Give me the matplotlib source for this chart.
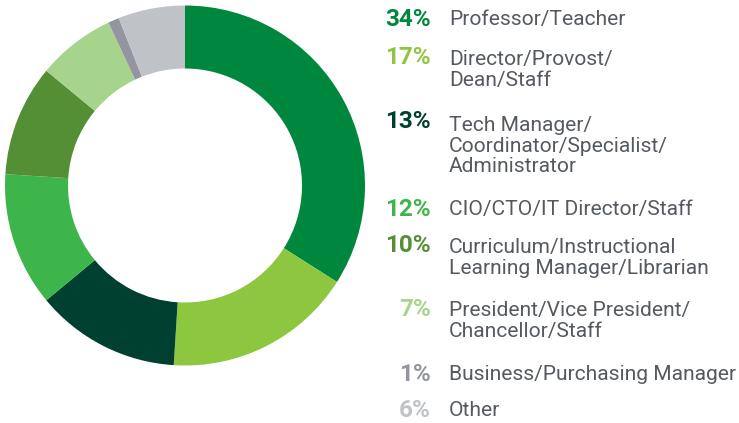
import matplotlib.pyplot as plt

labels = ['Professor/Teacher', 'Director/Provost/\nDean/Staff',
          'Tech Manager/\nCoordinator/Specialist/\nAdministrator',
          'CIO/CTO/IT Director/Staff',
          'Curriculum/Instructional\nLearning Manager/Librarian',
          'President/Vice President/\nChancellor/Staff',
          'Business/Purchasing Manager', 'Other']
values = [34, 17, 13, 12, 10, 7, 1, 6]
colors = ['#00873e', '#8dc63f', '#004030', '#3db54a', '#548f35',
          '#a6d48c', '#9396a0', '#bfc2c7']
# vertical centre of each label block, pixels from top
label_y = [20, 70, 146, 209, 258, 321, 374, 410]

W, H = 739, 423
fig = plt.figure(figsize=(W / 100, H / 100), dpi=100)

ax = fig.add_axes([5 / W, (H - 365.5) / H, 360 / W, 360 / H])
ax.pie(values, colors=colors, startangle=90, counterclock=False,
       radius=1, wedgeprops=dict(width=0.35, linewidth=0))
ax.set_xlim(-1, 1)
ax.set_ylim(-1, 1)
ax.set_aspect('equal')
ax.axis('off')

for lab, v, c, y in zip(labels, values, colors, label_y):
    nlines = lab.count('\n') + 1
    top = y - (nlines - 1) * 12
    fig.text(431 / W, 1 - top / H, f'{v}%', color=c, fontsize=17.5,
             fontweight='bold', family='Roboto', ha='right', va='center')
    fig.text(449 / W, 1 - y / H, lab, color='#555a60', fontsize=15.1,
             family='Roboto', ha='left', va='center', linespacing=1.1)

fig.savefig('out.png', dpi=100)
